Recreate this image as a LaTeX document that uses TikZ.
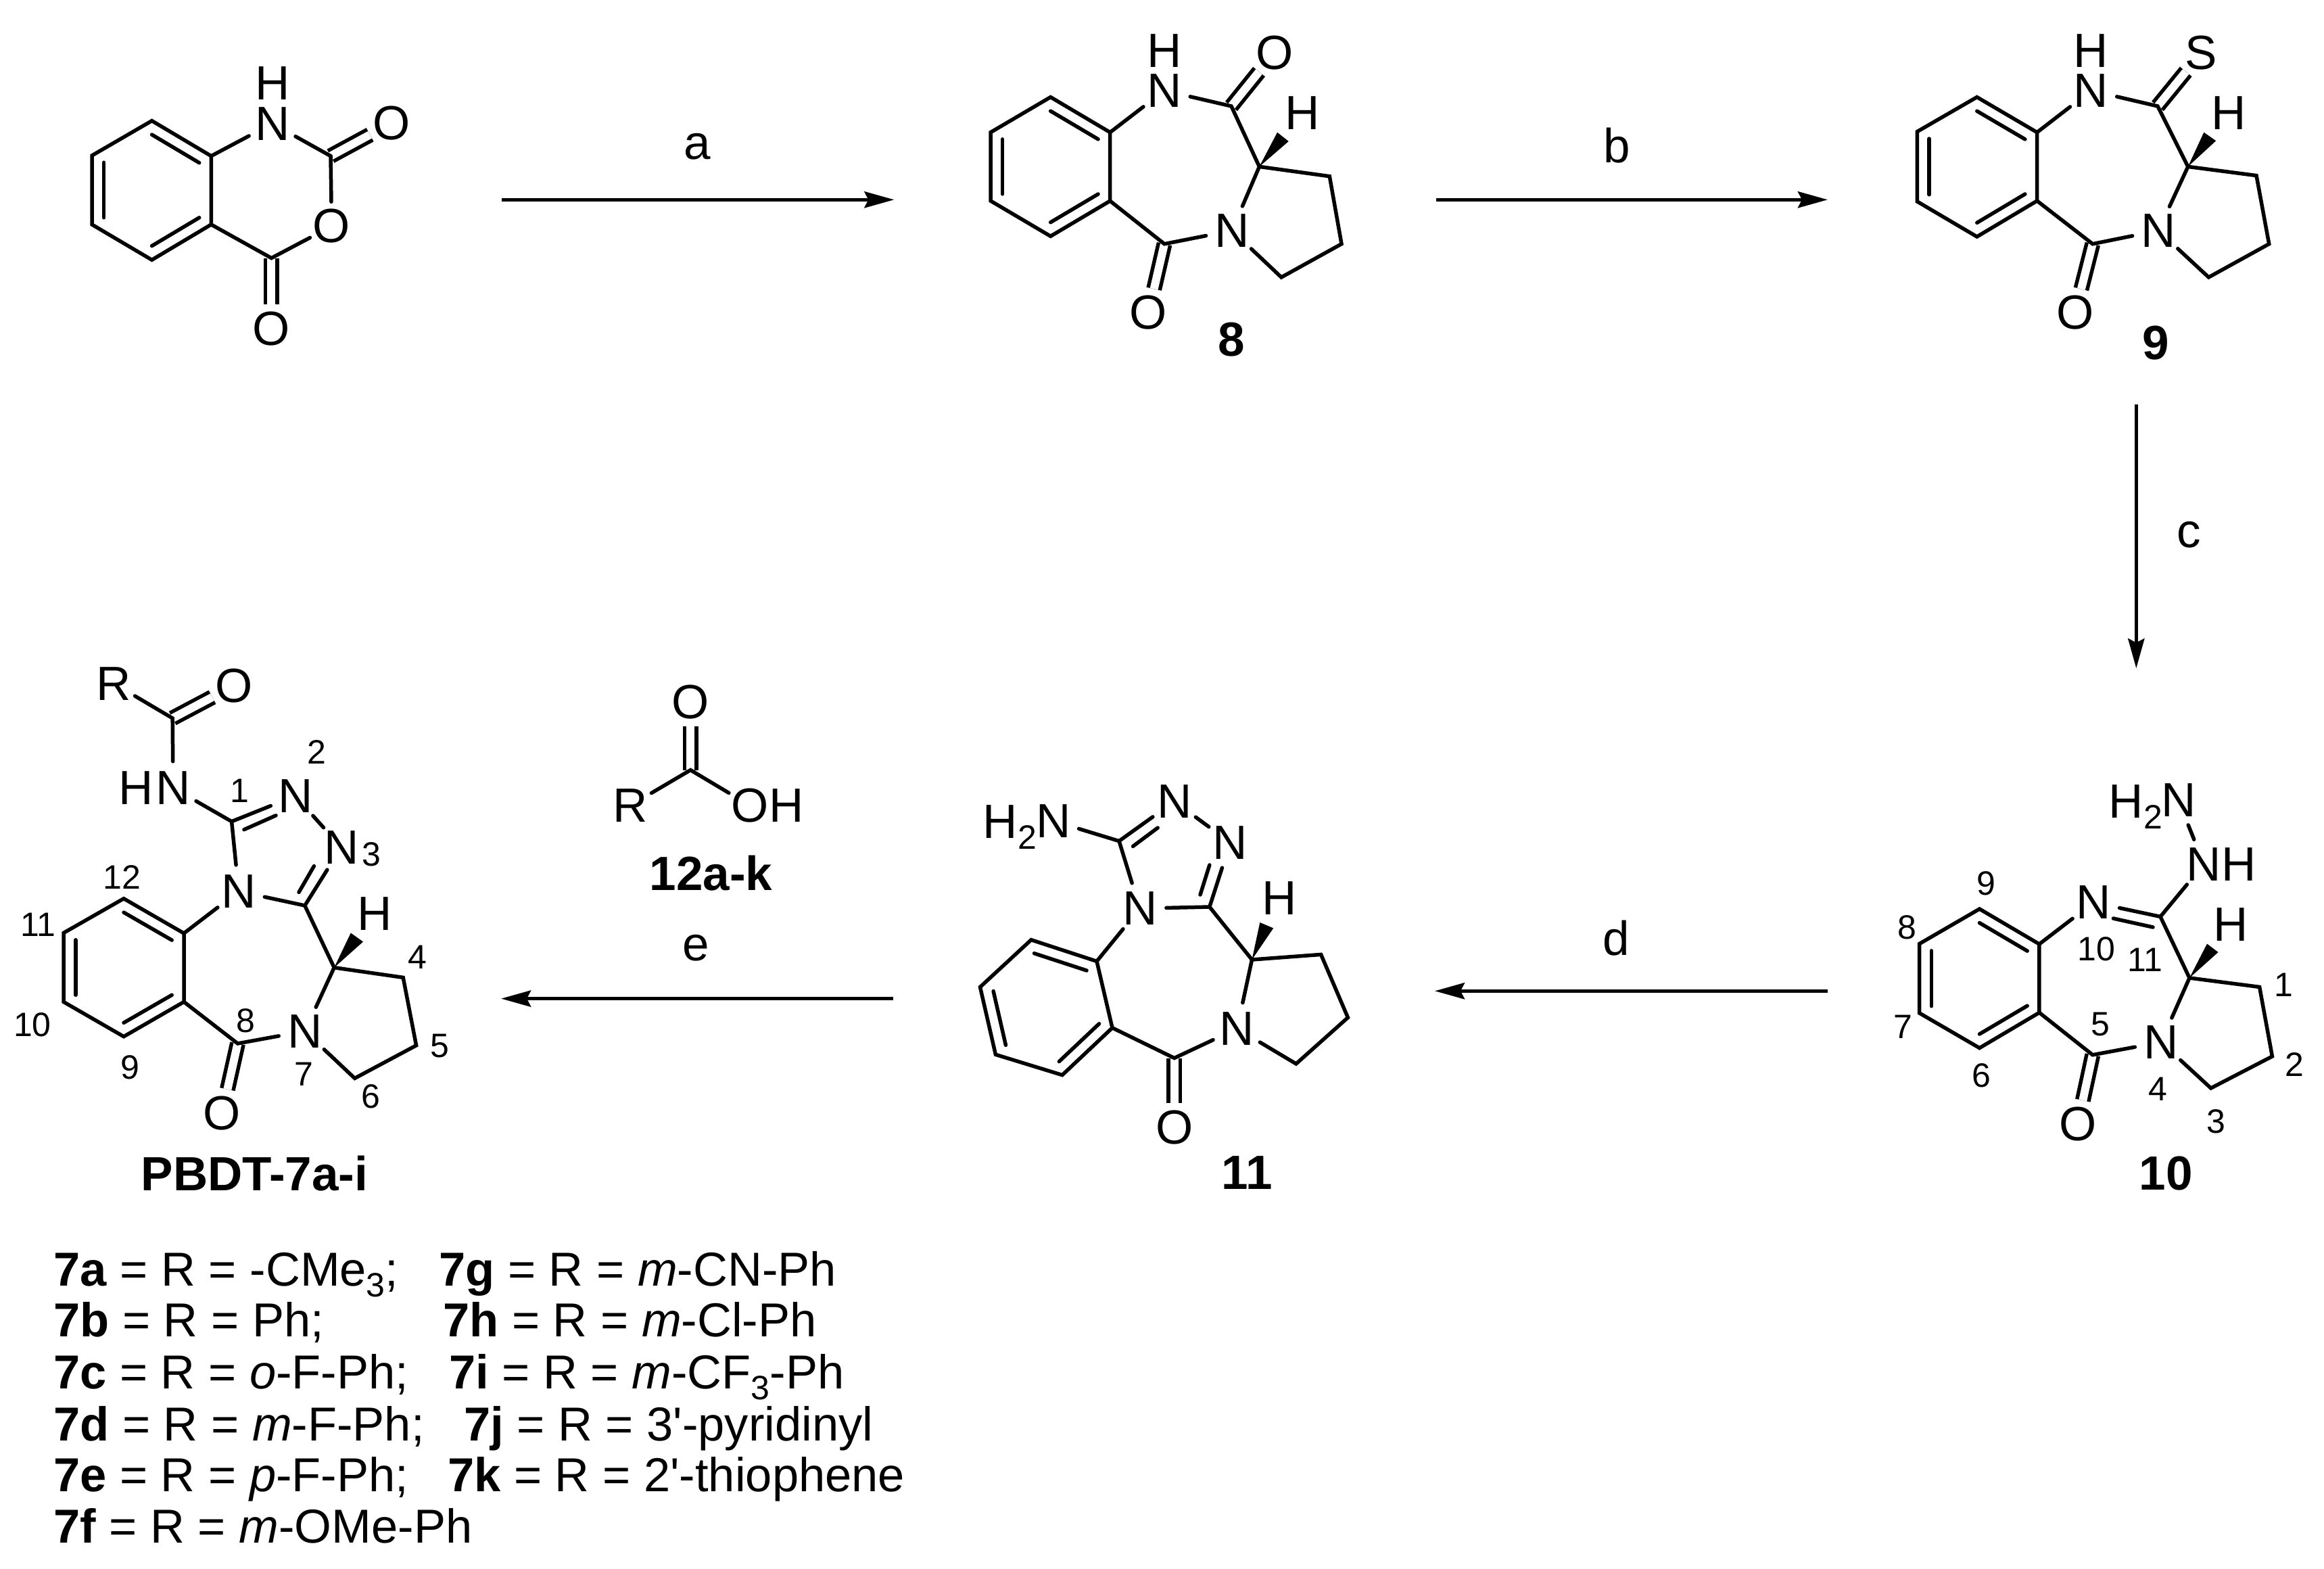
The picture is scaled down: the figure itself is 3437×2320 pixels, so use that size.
\documentclass[tikz,border=0pt]{standalone}
\usepackage{fontspec}
\setmainfont[Ligatures=ResetAll]{Liberation Sans}
\usetikzlibrary{calc,arrows.meta}
\newcommand{\zw}[1]{\makebox[0pt]{#1}}
\newcommand{\sbs}[1]{\raisebox{-16pt}{\fontsize{50}{50}\selectfont #1}}
\newcommand{\innerb}[3]{\draw[bond] ($(#1)!.2!(#3)$) -- ($(#2)!.2!(#3)$);}
\tikzset{
 x=1pt,y=-1pt,
 bond/.style={line width=5.5pt,line cap=round,line join=miter},
 dbl/.style={double,double distance=12pt,line width=5.5pt,line cap=butt},
 atomN/.style={circle,inner sep=0pt,minimum size=78pt,font=\fontsize{71}{71}\selectfont},
 atomO/.style={circle,inner sep=0pt,minimum size=72pt,font=\fontsize{71}{71}\selectfont},
 txtn/.style={inner sep=0pt,font=\fontsize{71}{71}\selectfont},
 lab/.style={inner sep=0pt,font=\fontsize{71}{71}\selectfont\bfseries},
 num/.style={inner sep=0pt,font=\fontsize{50}{50}\selectfont},
 list/.style={inner sep=0pt,anchor=base west,font=\fontsize{70.5}{70.5}\selectfont},
 arr/.style={line width=5.5pt,-{Stealth[length=44pt,width=24pt,inset=6pt]}}
}
\begin{document}
\begin{tikzpicture}
\useasboundingbox (0,0) rectangle (3437,2320);
% ---------- anhydride
\foreach \n/\p in {a1/{224.6,178.6},a2/{312.3,230.7},a3/{312.3,332},a4/{224.6,384.3},a5/{136,332},a6/{136,230},actr/{224.5,281},aC2/{489,230.7},aC4/{401.4,381.6}}{\coordinate (\n) at (\p);}
\node[atomN] (aN) at (402.8,182.6) {\zw{N}};
\node[txtn] (aH) at (402.8,123) {H};
\node[atomO] (aO1) at (579,182) {\zw{O}};
\node[atomO] (aOr) at (490.5,334.5) {\zw{O}};
\node[atomO] (aO2) at (401.4,486) {\zw{O}};
\draw[dbl] (aC2) -- (aO1);
\draw[dbl] (aC4) -- (aO2);
\draw[bond] (a1)--(a2)--(a3)--(a4)--(a5)--(a6)--cycle;
\innerb{a1}{a2}{actr}\innerb{a3}{a4}{actr}\innerb{a5}{a6}{actr}
\draw[bond] (a2)--(aN)--(aC2)--(aOr)--(aC4)--(a3);
% ---------- 8
\foreach \n/\p in {b1/{1553.7,143.6},b2/{1641.7,195.7},b3/{1641.7,297.1},b4/{1553.7,349.3},b5/{1465,297},b6/{1465,195.7},bctr/{1553.5,246.5},bCa/{1821,157},bCH/{1862.4,246.4},bw1/{1889,195.7},bw2/{1905.7,209},bc1/{1966.3,260.7},bc2/{1984,360.7},bc3/{1895,410},bCb/{1722,360.7}}{\coordinate (\n) at (\p);}
\node[atomN] (bN) at (1722,134) {\zw{N}};
\node[txtn] (bH) at (1722,75) {H};
\node[atomO] (bO1) at (1884.7,77.9) {\zw{O}};
\node[txtn] (bHs) at (1926,166.8) {H};
\node[atomN] (bNr) at (1822,341) {\zw{N}};
\node[atomO] (bO2) at (1698.5,462.5) {\zw{O}};
\node[lab] (bL) at (1821,501.8) {8};
\draw[dbl] (bCa) -- (bO1);
\draw[dbl] (bCb) -- (bO2);
\draw[bond] (b1)--(b2)--(b3)--(b4)--(b5)--(b6)--cycle;
\innerb{b1}{b2}{bctr}\innerb{b3}{b4}{bctr}\innerb{b5}{b6}{bctr}
\draw[bond] (b2)--(bN)--(bCa)--(bCH)--(bNr)--(bCb)--(b3);
\draw[bond] (bCH)--(bc1)--(bc2)--(bc3)--(bNr);
\fill (bCH)--(bw1)--(bw2)--cycle;
% ---------- 9
\foreach \n/\p in {c1/{2923.7,143.6},c2/{3012.6,195.7},c3/{3012.6,297},c4/{2923.7,350},c5/{2835.4,298},c6/{2835.4,194.6},cctr/{2924,246.8},cCa/{3191,157},cCH/{3235.8,246.4},cw1/{3259.3,195.7},cw2/{3277.2,208.2},cc1/{3337,259.6},cc2/{3355.7,360.7},cc3/{3266.4,410},cCb/{3094.8,360.7}}{\coordinate (\n) at (\p);}
\node[atomN] (cN) at (3092.5,134) {\zw{N}};
\node[txtn] (cH) at (3092.5,75) {H};
\node[atomO] (cS) at (3255.6,77.9) {\zw{S}};
\node[txtn] (cHs) at (3296,166.8) {H};
\node[atomN] (cNr) at (3192,341) {\zw{N}};
\node[atomO] (cO2) at (3069,462.5) {\zw{O}};
\node[lab] (cL) at (3188,507) {9};
\draw[dbl] (cCa) -- (cS);
\draw[dbl] (cCb) -- (cO2);
\draw[bond] (c1)--(c2)--(c3)--(c4)--(c5)--(c6)--cycle;
\innerb{c1}{c2}{cctr}\innerb{c3}{c4}{cctr}\innerb{c5}{c6}{cctr}
\draw[bond] (c2)--(cN)--(cCa)--(cCH)--(cNr)--(cCb)--(c3);
\draw[bond] (cCH)--(cc1)--(cc2)--(cc3)--(cNr);
\fill (cCH)--(cw1)--(cw2)--cycle;
% ---------- 10
\foreach \n/\p in {d1/{2927.5,1344},d2/{3015.9,1396},d3/{3015.9,1497.3},d4/{2927.5,1549.6},d5/{2838.7,1498},d6/{2838.7,1395.5},dctr/{2927.3,1446.8},dC/{3195,1355.4},dCH/{3238,1446},dw1/{3264,1395.5},dw2/{3280.5,1408},dc1/{3341.6,1459.4},dc2/{3360.4,1562},dc3/{3269.7,1609},dCb/{3094.8,1559.8},di1/{3125.4,1358},di2/{3184,1371}}{\coordinate (\n) at (\p);}
\node[atomN] (dN) at (3096.2,1334.4) {\zw{N}};
\node[atomN] (dNH) at (3259.3,1277.7) {\zw{N}};
\node[txtn] (dH1) at (3311,1277.7) {H};
\node[atomN] (dN2) at (3221.7,1183.5) {\zw{N}};
\node[txtn,anchor=base east] (dH2) at (3198,1209) {H\sbs{2}};
\node[txtn] (dHs) at (3299.3,1367) {H};
\node[atomN] (dNr) at (3195.9,1541) {\zw{N}};
\node[atomO] (dO) at (3072.7,1662.5) {\zw{O}};
\node[lab] (dL) at (3203,1735) {10};
\draw[dbl] (dCb) -- (dO);
\draw[bond] (d1)--(d2)--(d3)--(d4)--(d5)--(d6)--cycle;
\innerb{d1}{d2}{dctr}\innerb{d3}{d4}{dctr}\innerb{d5}{d6}{dctr}
\draw[bond] (d2)--(dN)--(dC)--(dCH)--(dNr)--(dCb)--(d3);
\draw[bond] (di1)--(di2);
\draw[bond] (dC)--(dNH)--(dN2);
\draw[bond] (dCH)--(dc1)--(dc2)--(dc3)--(dNr);
\fill (dCH)--(dw1)--(dw2)--cycle;
\foreach \n/\p/\t in {dn1/{3376.9,1455.8}/1,dn2/{3393.3,1574}/2,dn3/{3277.2,1658}/3,dn4/{3191.2,1609.8}/4,dn5/{3106.6,1515}/5,dn6/{2930.3,1590}/6,dn7/{2814,1518.3}/7,dn8/{2819.9,1371}/8,dn9/{2937.4,1306.7}/9,dn10/{3100.5,1403.6}/10,dn11/{3172.4,1419}/11}{\node[num] (\n) at (\p) {\t};}
% ---------- 11
\foreach \n/\p in {e1/{1622,1421.4},e2/{1525,1389.7},e3/{1449.5,1459.5},e4/{1472.4,1559.3},e5/{1571,1589.6},e6/{1645,1519.8},ectr/{1547.5,1489.6},eCa/{1655,1243.6},eCc/{1788.8,1341},eCH/{1851.5,1419},ew1/{1863.3,1364},ew2/{1883.2,1372.4},ec1/{1953.6,1411.4},ec2/{1993.4,1504.6},ec3/{1916.8,1573},eCb/{1736.7,1564.5},ei1/{1675.5,1251.4},ei2/{1712.2,1224},ei3/{1775,1323},ei4/{1788.8,1279}}{\coordinate (\n) at (\p);}
\node[atomN] (eNa) at (1558,1214) {\zw{N}};
\node[txtn,anchor=base east] (eH2) at (1533,1239.5) {H\sbs{2}};
\node[atomN] (eN1) at (1736.7,1185) {\zw{N}};
\node[atomN] (eN2) at (1819.4,1245.8) {\zw{N}};
\node[atomN] (eN3) at (1685.7,1343.3) {\zw{N}};
\node[txtn] (eHs) at (1892.3,1328) {H};
\node[atomN] (eNr) at (1829.6,1521) {\zw{N}};
\node[atomO] (eO) at (1736.7,1667) {\zw{O}};
\node[lab] (eL) at (1844,1733.6) {11};
\draw[dbl] (eCb) -- (eO);
\draw[bond] (e1)--(e2)--(e3)--(e4)--(e5)--(e6)--cycle;
\innerb{e1}{e2}{ectr}\innerb{e3}{e4}{ectr}\innerb{e5}{e6}{ectr}
\draw[bond] (eNa)--(eCa)--(eN1)--(eN2)--(eCc)--(eN3)--(eCa);
\draw[bond] (ei1)--(ei2);\draw[bond] (ei3)--(ei4);
\draw[bond] (eN3)--(e1);
\draw[bond] (eCc)--(eCH)--(eNr)--(eCb)--(e6);
\draw[bond] (eCH)--(ec1)--(ec2)--(ec3)--(eNr);
\fill (eCH)--(ew1)--(ew2)--cycle;
% ---------- PBDT
\foreach \n/\p in {f1/{183,1328.7},f2/{272,1380},f3/{272,1481.4},f4/{183,1532.7},f5/{94,1481.4},f6/{94,1379.5},fctr/{183,1430.7},fCa/{255.2,1062},fC1/{342.6,1214.7},fC2/{450.8,1339},fCO/{351.5,1543},fCH/{494.2,1430.7},fw1/{518.8,1379.5},fw2/{537,1392.5},fc1/{596.2,1445.4},fc2/{615.6,1545.8},fc3/{524.6,1594.4},fi1/{360.9,1226.7},fi2/{408,1205.8},fi3/{442,1319.3},fi4/{464.4,1280.6}}{\coordinate (\n) at (\p);}
\node[atomO] (fR) at (168.4,1010.7) {\zw{R}};
\node[atomO] (fO1) at (346,1013.9) {\zw{O}};
\node[atomN] (fNH) at (256,1165) {\zw{N}};
\node[txtn] (fH) at (201,1165) {H};
\node[atomN] (fN2) at (436.7,1177) {\zw{N}};
\node[atomN] (fN3) at (504.7,1252.9) {\zw{N}};
\node[atomN] (fN4) at (353,1318) {\zw{N}};
\node[txtn] (fHs) at (554.4,1351) {H};
\node[atomN] (fNr) at (450.8,1524.8) {\zw{N}};
\node[atomO] (fO2) at (328.5,1646) {\zw{O}};
\node[lab] (fL) at (376.6,1735.6) {PBDT-7a-i};
\draw[dbl] (fCa) -- (fO1);
\draw[dbl] (fCO) -- (fO2);
\draw[bond] (f1)--(f2)--(f3)--(f4)--(f5)--(f6)--cycle;
\innerb{f1}{f2}{fctr}\innerb{f3}{f4}{fctr}\innerb{f5}{f6}{fctr}
\draw[bond] (fR)--(fCa)--(fNH)--(fC1)--(fN2)--(fN3)--(fC2)--(fN4)--(fC1);
\draw[bond] (fi1)--(fi2);\draw[bond] (fi3)--(fi4);
\draw[bond] (fN4)--(f2);
\draw[bond] (fC2)--(fCH)--(fNr)--(fCO)--(f3);
\draw[bond] (fCH)--(fc1)--(fc2)--(fc3)--(fNr);
\fill (fCH)--(fw1)--(fw2)--cycle;
\foreach \n/\p/\t in {fn1/{354.6,1169}/1,fn2/{468,1111.7}/2,fn3/{549,1263}/3,fn4/{617,1415}/4,fn5/{650,1546.8}/5,fn6/{548,1621.6}/6,fn7/{449.8,1588.7}/7,fn8/{363.5,1509}/8,fn9/{192.5,1578}/9,fn10/{48,1515}/10,fn11/{56.5,1367}/11,fn12/{180.4,1297}/12}{\node[num] (\n) at (\p) {\t};}
% ---------- 12a-k
\coordinate (gC) at (1021.2,1138.6);
\node[atomO] (gO) at (1021.2,1038) {\zw{O}};
\node[atomO] (gR) at (932.2,1191) {\zw{R}};
\node[atomO] (gOH) at (1109,1191) {\zw{O}};
\node[txtn] (gH) at (1162.9,1191) {H};
\node[lab] (gL) at (1051.4,1291.4) {12a-k};
\draw[dbl] (gC) -- (gO);
\draw[bond] (gR)--(gC)--(gOH);
% ---------- arrows
\foreach \n/\p in {ra1/{742,295.3},ra2/{1322.4,295.3},rb1/{2123.5,295.3},rb2/{2703,295.3},rc1/{3159.3,597.7},rc2/{3159.3,988.3},rd1/{2703,1465.3},rd2/{2121.9,1465.3},re1/{1320.8,1476.6},re2/{741,1476.6}}{\coordinate (\n) at (\p);}
\draw[arr] (ra1)--(ra2);
\draw[arr] (rb1)--(rb2);
\draw[arr] (rc1)--(rc2);
\draw[arr] (rd1)--(rd2);
\draw[arr] (re1)--(re2);
\node[txtn] (la) at (1031,217) {a};
\node[txtn] (lb) at (2390.8,215.5) {b};
\node[txtn] (lc) at (3237.3,790.7) {c};
\node[txtn] (ld) at (2390.4,1387) {d};
\node[txtn] (le) at (1029.4,1401.5) {e};
% ---------- list
\node[list] (t1) at (79,1901) {\textbf{7a} = R = -CMe\sbs{3};};
\node[list] (t2) at (79,1976.8) {\textbf{7b} = R = Ph;};
\node[list] (t3) at (79,2053.7) {\textbf{7c} = R = \textit{o}-F-Ph;};
\node[list] (t4) at (79,2130) {\textbf{7d} = R = \textit{m}-F-Ph;};
\node[list] (t5) at (79,2205.3) {\textbf{7e} = R = \textit{p}-F-Ph;};
\node[list] (t6) at (79,2281) {\textbf{7f} = R = \textit{m}-OMe-Ph};
\node[list] (t7) at (649,1901) {\textbf{7g} = R = \textit{m}-CN-Ph};
\node[list] (t8) at (655,1976.8) {\textbf{7h} = R = \textit{m}-Cl-Ph};
\node[list] (t9) at (664,2053.7) {\textbf{7i} = R = \textit{m}-CF\sbs{3}-Ph};
\node[list] (t10) at (686,2130) {\textbf{7j} = R = 3\textquotesingle-pyridinyl};
\node[list] (t11) at (662,2205.3) {\textbf{7k} = R = 2\textquotesingle-thiophene};
\end{tikzpicture}
\end{document}
